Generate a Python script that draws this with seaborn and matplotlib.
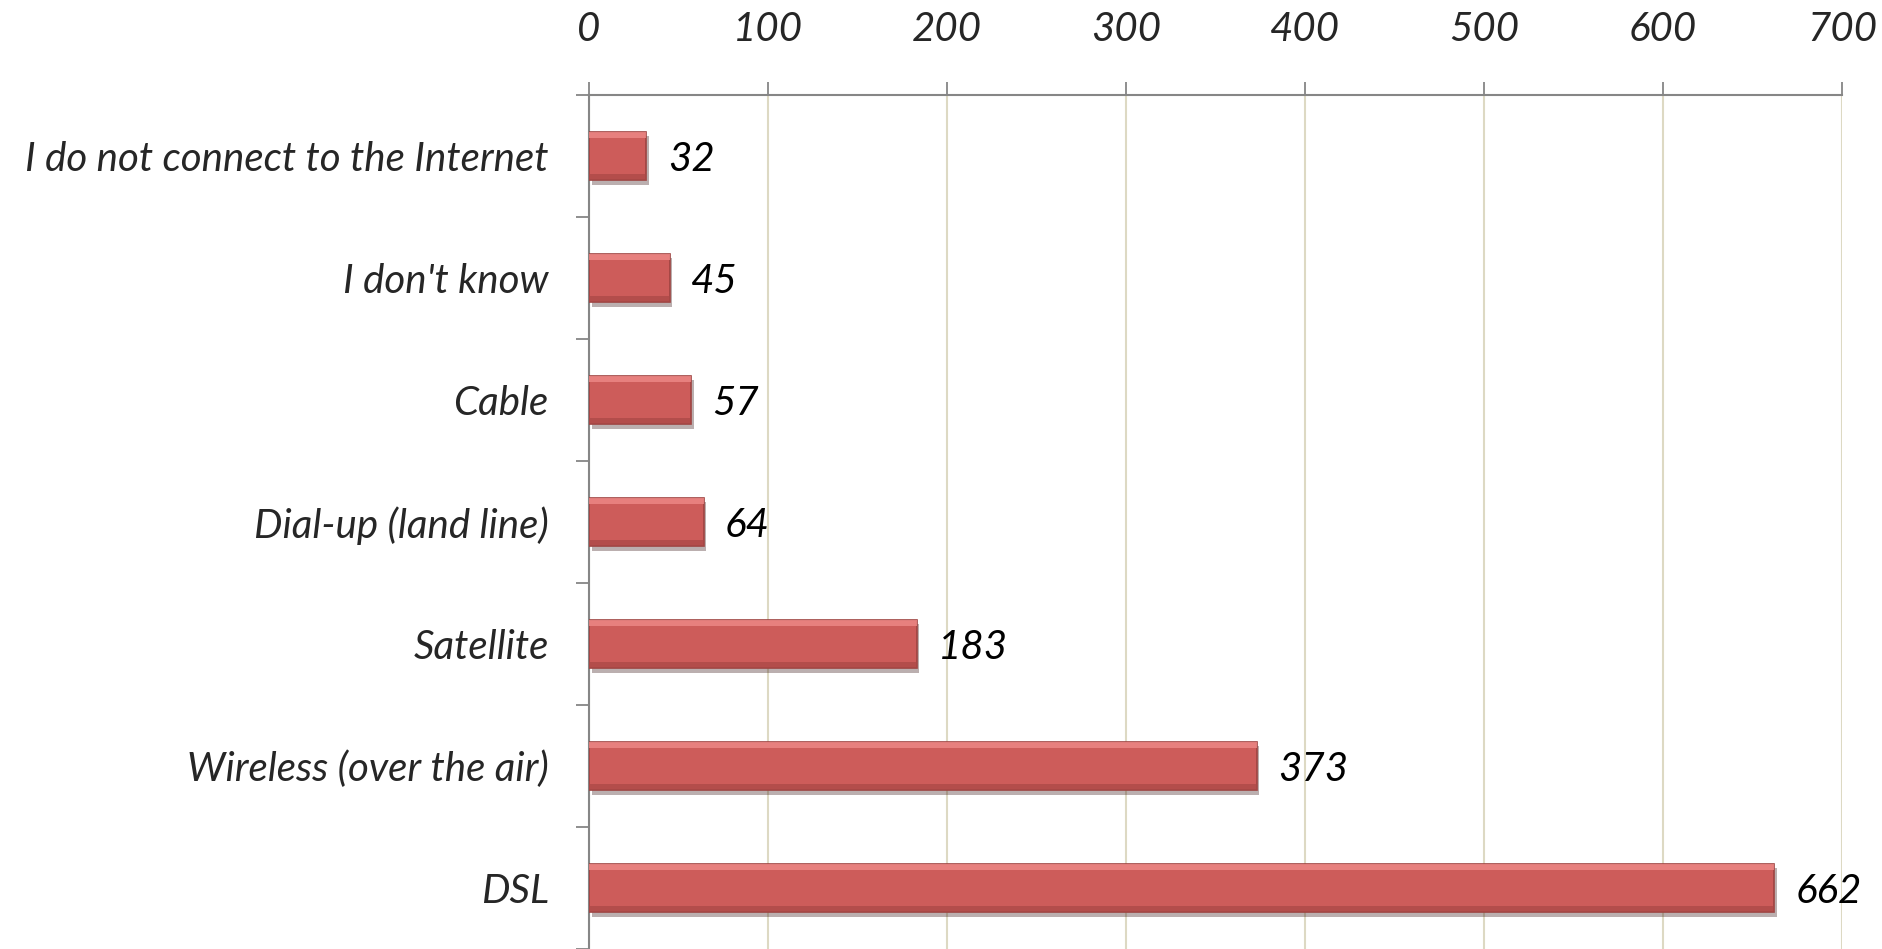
import numpy as np
import pandas as pd
import seaborn as sns
import matplotlib.pyplot as plt
from matplotlib import patheffects
from matplotlib.patches import Rectangle

categories = ["I do not connect to the Internet", "I don't know", "Cable",
              "Dial-up (land line)", "Satellite", "Wireless (over the air)", "DSL"]
counts = [32, 45, 57, 64, 183, 373, 662]
x_ticks = [0, 100, 200, 300, 400, 500, 600, 700]

df = pd.DataFrame({"category": categories, "count": counts})

sns.set_theme(style="white")
plt.rcParams['font.family'] = ['Lato', 'DejaVu Sans']
plt.rcParams['font.style'] = 'italic'

fig = plt.figure(figsize=(18.83, 9.49), dpi=100)
ax = fig.add_axes([0.3128, 0.0, 0.9782 - 0.3128, 0.8999])

sns.barplot(data=df, x="count", y="category", orient="h", order=categories,
            color="#CD5C5A", saturation=1, width=0.4, edgecolor="#9E4341",
            linewidth=1.2, ax=ax, zorder=3)

# shadow + simple bevel bands on each bar
for p in list(ax.patches):
    p.set_path_effects([patheffects.SimplePatchShadow(offset=(2, -3), alpha=0.35),
                        patheffects.Normal()])
    x0, y0, w, h = p.get_x(), p.get_y(), p.get_width(), p.get_height()
    # y axis is inverted: y0 is the top edge
    ax.add_patch(Rectangle((x0, y0), w, h * 0.14, facecolor="#EE8A88",
                           edgecolor="none", zorder=4, alpha=0.8))
    ax.add_patch(Rectangle((x0, y0 + h * 0.86), w, h * 0.14, facecolor="#A84846",
                           edgecolor="none", zorder=4, alpha=0.7))

for i, v in enumerate(counts):
    ax.text(v + 12, i + 0.03, str(v), va="center", ha="left",
            fontsize=29, style="italic", color="black")

ax.set_xlim(0, 700)
ax.set_ylim(len(categories) - 0.5, -0.5)
ax.set_xticks(x_ticks)
ax.set_xticklabels([str(t) for t in x_ticks], fontsize=29, style="italic")
ax.xaxis.tick_top()
ax.tick_params(axis="x", which="major", direction="out", length=9.5, width=1.3,
               color="#868686", pad=24, top=True, bottom=False)

ax.set_yticks(range(len(categories)))
ax.set_yticklabels(categories, fontsize=29, style="italic")
ax.set_yticks(np.arange(-0.5, len(categories) + 0.5, 1), minor=True)
ax.tick_params(axis="y", which="major", length=0, pad=29)
ax.tick_params(axis="y", which="minor", direction="out", length=9.5, width=1.3,
               color="#868686", left=True)

ax.grid(axis="x", color="#DDD9C3", linewidth=1.5, zorder=0)
ax.grid(axis="y", visible=False)
ax.set_axisbelow(True)

for side in ["right", "bottom"]:
    ax.spines[side].set_visible(False)
for side in ["top", "left"]:
    ax.spines[side].set_color("#868686")
    ax.spines[side].set_linewidth(1.5)

ax.set_xlabel("")
ax.set_ylabel("")

fig.savefig("out.png", dpi=100)
